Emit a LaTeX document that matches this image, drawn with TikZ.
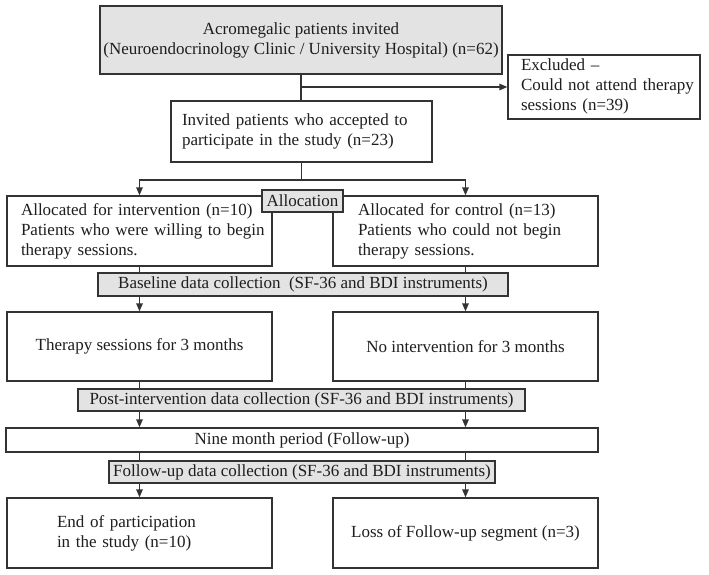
\documentclass[tikz,border=0pt]{standalone}
\usepackage{fontspec}
\setmainfont{Liberation Serif}
\usetikzlibrary{arrows.meta}
\definecolor{linec}{HTML}{333333}
\definecolor{boxgray}{HTML}{E3E3E3}
\definecolor{txt}{HTML}{1E1E1E}
\newcommand\fsz{\fontsize{17}{20}\selectfont}
\newcommand\ltext[2]{\hspace*{#1}\begin{tabular}[c]{@{}l@{}}#2\end{tabular}}
\begin{document}
\begin{tikzpicture}[x=1pt,y=-1pt,
  box/.style={draw=linec,line width=1.3pt,fill=white,inner sep=0pt,text=txt,font=\fsz},
  gbox/.style={box,fill=boxgray},
  lbox/.style={box,align=left,text width=#1},
  cbox/.style={box,align=center,minimum width=#1},
  conn/.style={draw=linec,line width=1.3pt},
  arr/.style={-{Triangle[length=8pt,width=6.5pt]}}]
\useasboundingbox (0,0) rectangle (709,575);
\fill[white] (0,0) rectangle (709,575);

\node[gbox,align=center,minimum width=402pt,minimum height=68pt] (top) at (301,40)
  {Acromegalic patients invited\\(Neuroendocrinology Clinic / University Hospital) (n=62)};
\node[lbox=192pt,minimum height=64pt] (excl) at (604,87)
  {\ltext{13pt}{Excluded –\\Could not attend therapy\\sessions (n=39)}};
\node[lbox=261pt,minimum height=61pt] (acc) at (301.5,131.5)
  {\ltext{11pt}{Invited patients who accepted to\\participate in the study (n=23)}};

\node[lbox=265pt,minimum height=70pt] (il) at (139.5,231)
  {\ltext{14pt}{Allocated for intervention (n=10)\\Patients who were willing to begin\\therapy sessions.}};
\node[lbox=265pt,minimum height=70pt] (ir) at (465.5,231)
  {\ltext{25pt}{Allocated for control (n=13)\\Patients who could not begin\\therapy sessions.}};
\node[gbox,minimum width=81pt,minimum height=22pt] (alloc) at (302.5,201) {Allocation};

\node[gbox,minimum width=410pt,minimum height=23pt] (base) at (303,284.5)
  {Baseline data collection\ \ (SF-36 and BDI instruments)};

\node[cbox=265pt,minimum height=69pt] (tl) at (139.5,346.5) {Therapy sessions for 3 months};
\node[cbox=265pt,minimum height=69pt] (tr) at (465.5,346.5) {No intervention for 3 months};

\node[gbox,minimum width=447pt,minimum height=22pt] (post) at (301.5,400)
  {Post-intervention data collection (SF-36 and BDI instruments)};
\node[box,minimum width=592pt,minimum height=24pt] (nine) at (302,440)
  {Nine month period (Follow-up)};
\node[gbox,minimum width=386pt,minimum height=22pt] (fup) at (302,472)
  {Follow-up data collection (SF-36 and BDI instruments)};

\node[lbox=265pt,minimum height=70pt] (el) at (139.5,533)
  {\ltext{50pt}{End of participation\\in the study (n=10)}};
\node[cbox=265pt,minimum height=70pt] (er) at (465.5,533) {Loss of Follow-up segment (n=3)};

\coordinate (split) at (301.5,180);

\draw[conn] (top.south) -- (acc.north -| top.south);
\draw[conn,arr] (top.south |- excl.west) -- (excl.west);
\draw[conn] (acc.south) -- (split);
\draw[conn,arr] (split) -| (il.north);
\draw[conn,arr] (split) -| (ir.north);

\foreach \a/\b in {il/tl, ir/tr}{
  \draw[conn] (\a.south) -- (base.north -| \a.south);
  \draw[conn,arr] (base.south -| \a.south) -- (\b.north);
}
\foreach \a/\b in {tl/el, tr/er}{
  \draw[conn] (\a.south) -- (post.north -| \a.south);
  \draw[conn,arr] (post.south -| \a.south) -- (nine.north -| \a.south);
  \draw[conn] (nine.south -| \a.south) -- (fup.north -| \a.south);
  \draw[conn,arr] (fup.south -| \a.south) -- (\b.north);
}
\end{tikzpicture}
\end{document}
